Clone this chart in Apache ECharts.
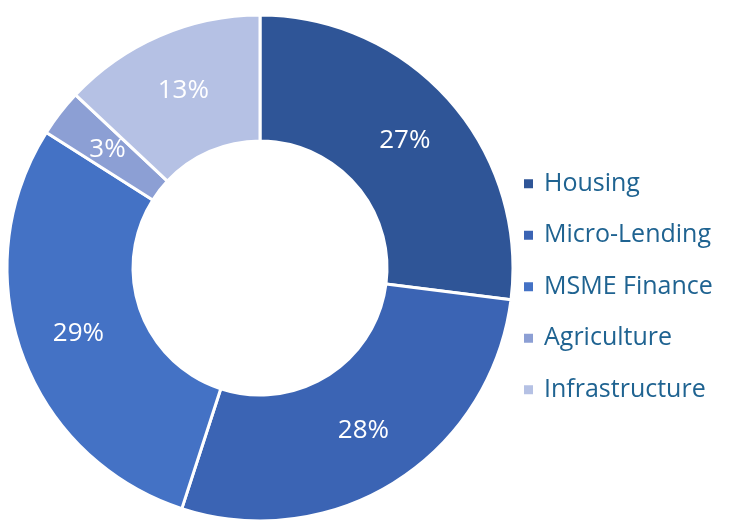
<!DOCTYPE html>
<html>
<head>
<meta charset="utf-8">
<script src="https://cdn.jsdelivr.net/npm/echarts@6/dist/echarts.min.js"></script>
<style>
  html, body { margin: 0; padding: 0; background: #fff; }
  #chart { width: 735px; height: 522px; }
</style>
</head>
<body>
<div id="chart"></div>
<script>
// 各领域占比 (%)
const categories = ['Housing', 'Micro-Lending', 'MSME Finance', 'Agriculture', 'Infrastructure'];
const shares = [27, 28, 29, 3, 13];
const sliceColors = ['#2F5597', '#3B64B4', '#4472C5', '#8C9FD4', '#B5C1E4'];

const chart = echarts.init(document.getElementById('chart'));

const option = {
    animation: false,
    color: sliceColors,
    legend: {
        orient: 'vertical',
        left: 517,
        top: 165,
        icon: 'rect',
        itemWidth: 11,
        itemHeight: 11,
        itemGap: 24,
        data: categories,
        textStyle: {
            fontFamily: 'Open Sans',
            fontSize: 25,
            lineHeight: 27.5,
            color: '#1F6391',
            padding: [0, 0, 0, 5]
        }
    },
    series: [{
        type: 'pie',
        center: [260, 268],
        radius: [127, 253],
        startAngle: 90,
        clockwise: true,
        itemStyle: { borderColor: '#fff', borderWidth: 3 },
        label: {
            position: 'inside',
            formatter: '{c}%',
            color: '#fff',
            fontFamily: 'Open Sans',
            fontSize: 26
        },
        labelLine: { show: false },
        data: categories.map((name, i) => ({ name: name, value: shares[i] }))
    }]
};
chart.setOption(option);
</script>
</body>
</html>
